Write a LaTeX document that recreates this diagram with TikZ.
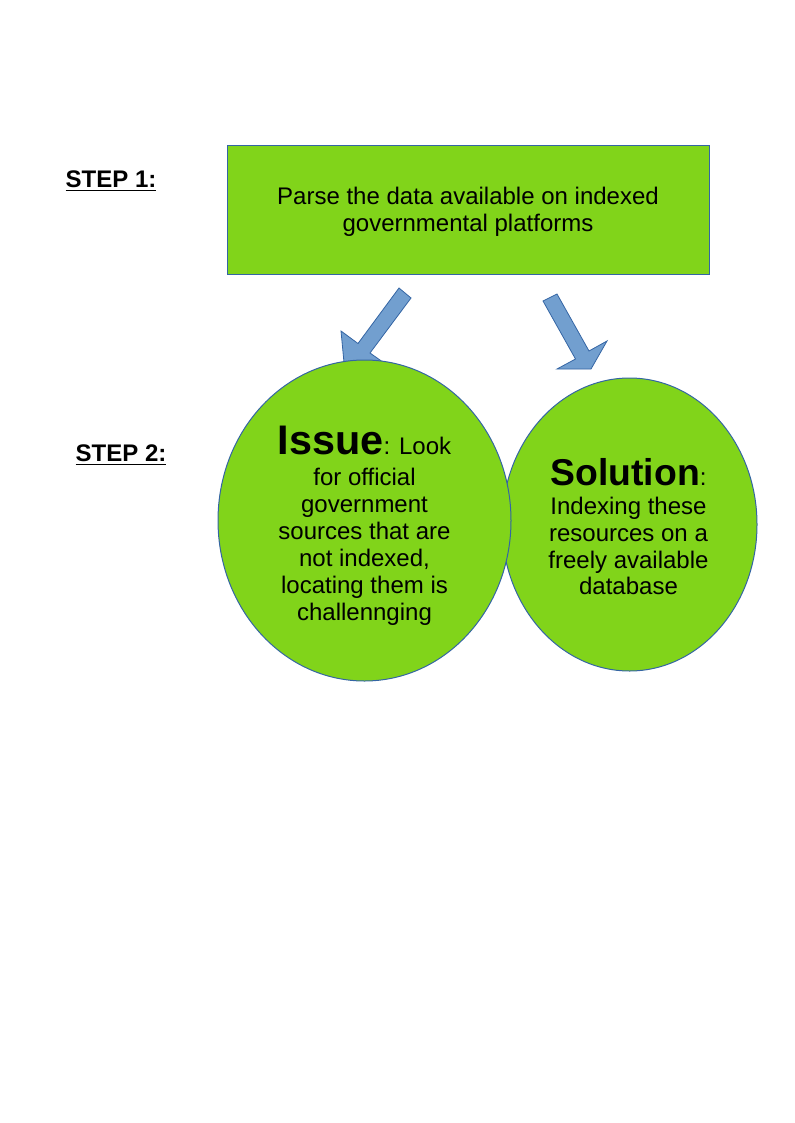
\documentclass[tikz,border=0pt]{standalone}
\usepackage{fontspec}
\setmainfont{Liberation Sans}
\usetikzlibrary{shapes.geometric}
\definecolor{limegreen}{HTML}{81D41A}
\definecolor{edgeblue}{HTML}{3465A4}
\definecolor{arrowblue}{HTML}{729FCF}
\begin{document}
\begin{tikzpicture}[x=0.75pt, y=-0.75pt,
	font=\fontsize{18}{20.2}\selectfont,
	steplabel/.style={anchor=west, font=\fontsize{18}{20.2}\selectfont\bfseries},
	greenbox/.style={draw=edgeblue, fill=limegreen, line width=0.75pt, align=center, inner sep=0pt},
	fatarrow/.style={draw=edgeblue, fill=arrowblue, line width=0.6pt}]
	\useasboundingbox (0,0) rectangle (794,1123);
	% step labels
	\node[steplabel] (step1) at (61,181) {\underline{STEP 1:}};
	\node[steplabel] (step2) at (71,455) {\underline{STEP 2:}};
	% step 1 box
	\node[greenbox, rectangle, minimum width=361.5pt, minimum height=96pt] (parse) at (468,210) {};
	\node[align=center] (parsetext) at (468,212) {Parse the data available on indexed\\governmental platforms};
	% block arrows
	\draw[fatarrow] (399,288) -- (411,298) -- (370,353) -- (387,365) -- (345,373) -- (341,331) -- (358,343.5) -- cycle;
	\draw[fatarrow] (543,301) -- (557,294) -- (589,351) -- (607,341) -- (591,369) -- (557,369) -- (575.5,359) -- cycle;
	% step 2 ellipses
	\node[greenbox, ellipse, minimum width=191.25pt, minimum height=219.75pt] (solution) at (629.5,524.5) {};
	\node[align=center] (solutiontext) at (628.5,527) {{\fontsize{28}{30}\selectfont\bfseries Solution}:\\[1pt]Indexing these\\resources on a\\freely available\\database};
	\node[greenbox, ellipse, minimum width=219.75pt, minimum height=240.75pt] (issue) at (364.5,520.5) {};
	\node[align=center] (issuetext) at (364.5,526) {{\fontsize{31}{33}\selectfont\bfseries Issue}: Look\\[3pt]for official\\government\\sources that are\\not indexed,\\locating them is\\challennging};
\end{tikzpicture}
\end{document}
